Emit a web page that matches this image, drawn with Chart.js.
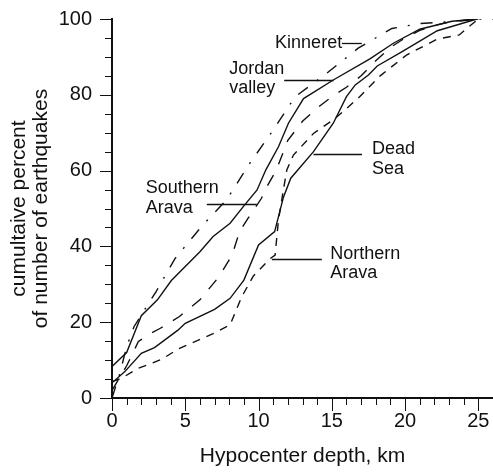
<!DOCTYPE html>
<html>
<head>
<meta charset="utf-8">
<script src="https://cdn.jsdelivr.net/npm/chart.js@4"></script>
<style>
  html, body { margin: 0; padding: 0; background: #fff; }
  #depthChart { display: block; }
</style>
</head>
<body>
<canvas id="depthChart" width="493" height="473"></canvas>
<script>
// cumulative distribution of hypocenter depths, per region
const kinneretDepth = [0, 0.5, 1, 1.5, 2.5, 3, 4.3, 6.1, 7.8, 9.4, 11, 12.5, 14.5, 16.8, 19.1, 21, 22.6, 25, 26];
const kinneretPct = [0, 6, 13.5, 18.8, 25, 28, 36.8, 45.2, 52.2, 61.9, 70.7, 79.5, 85.2, 92.3, 97.5, 98.8, 99.2, 100, 100];

const jordanDepth = [0, 1, 2, 3.1, 4.05, 6, 6.9, 8.06, 9, 9.9, 10.5, 11.36, 12.04, 13.07, 15.1, 17.6, 19.2, 21, 23.2, 25];
const jordanPct = [8.3, 12, 21.7, 25.9, 31, 38.6, 42.6, 46.1, 50.7, 54.9, 60.2, 66.3, 72.5, 79, 83.9, 89.5, 93.6, 97.3, 99.4, 100];

const sAravaDepth = [0, 1, 1.8, 2.6, 3.3, 4.6, 6, 7.3, 8.2, 8.7, 9.3, 10.2, 10.5, 11.2, 12, 13, 14, 15, 16, 17, 18, 19, 20, 21, 22, 23, 25];
const sAravaPct = [2, 8.5, 14.9, 17, 18.4, 21.5, 25.9, 32, 37.7, 43.9, 47.5, 52.7, 55.3, 60, 68, 73, 76.5, 79.5, 82, 85, 89, 92.5, 95, 97, 98.3, 99.2, 100];

const deadSeaDepth = [0, 0.86, 2, 2.9, 4.5, 5, 7, 8.06, 9, 10, 11.1, 11.7, 12.2, 13.75, 15.1, 16, 16.6, 17.5, 18.1, 19.8, 22.2, 24.9];
const deadSeaPct = [4, 6.9, 11.8, 13.3, 17.9, 19.7, 23.4, 26.3, 31.1, 40.4, 43.9, 53, 58, 65, 72.5, 79.5, 82.6, 85.2, 87.6, 91.4, 96.9, 100];

const nAravaDepth = [0, 0.64, 1.78, 2.68, 3.48, 4.5, 6.9, 8.06, 8.85, 9.65, 10.8, 11.13, 11.36, 11.7, 11.93, 12.38, 13.75, 15.1, 15.9, 16.9, 18.3, 20.1, 22.2, 23.7, 24.2, 25];
const nAravaPct = [4.3, 5.2, 7.8, 9.1, 10.4, 12.9, 17, 19.3, 26.7, 32.2, 36.8, 37.7, 47, 55, 60.2, 64.1, 69.8, 73.4, 76, 79.5, 85, 90.5, 94.7, 95.8, 97.5, 100];

const xTickLabels = [0, 5, 10, 15, 20, 25];
const yTickLabels = [0, 20, 40, 60, 80, 100];

const FONT = "'Liberation Sans', Arial, sans-serif";
const INK = "#111";

function pts(xs, ys) {
  return xs.map((x, i) => ({ x: x, y: ys[i] }));
}

// region names with their pointer strokes (data units)
const regionLabels = [
  { lines: ["Kinneret"], x: 11.13, y: 92.4, from: 15.69, to: 17.05, at: 93.75 },
  { lines: ["Jordan", "valley"], x: 8.0, y: 85.5, from: 11.75, to: 15.12, at: 83.9 },
  { lines: ["Southern", "Arava"], x: 2.3, y: 54.0, from: 6.47, to: 9.88, at: 51.2 },
  { lines: ["Dead", "Sea"], x: 17.74, y: 64.3, from: 13.75, to: 17.06, at: 64.4 },
  { lines: ["Northern", "Arava"], x: 14.89, y: 36.7, from: 10.91, to: 14.32, at: 36.7 },
];

const regionText = {
  id: "regionText",
  afterDraw(chart) {
    const { ctx, scales: { x, y } } = chart;
    ctx.save();
    ctx.fillStyle = INK;
    ctx.strokeStyle = INK;
    ctx.lineWidth = 1.3;
    ctx.font = "18px " + FONT;
    ctx.textBaseline = "alphabetic";
    regionLabels.forEach((lab) => {
      const tx = x.getPixelForValue(lab.x);
      const ty = y.getPixelForValue(lab.y);
      lab.lines.forEach((s, i) => ctx.fillText(s, tx, ty + i * 19.5));
      const py = Math.round(y.getPixelForValue(lab.at)) + 0.5;
      ctx.beginPath();
      ctx.moveTo(x.getPixelForValue(lab.from), py);
      ctx.lineTo(x.getPixelForValue(lab.to), py);
      ctx.stroke();
    });
    ctx.restore();
  },
};

// outward ticks: long at labelled values, short in between
const axisTicks = {
  id: "axisTicks",
  afterDraw(chart) {
    const { ctx, chartArea, scales: { x, y } } = chart;
    ctx.save();
    ctx.strokeStyle = INK;
    ctx.lineWidth = 1;
    ctx.beginPath();
    for (let v = 0; v <= 26; v++) {
      const px = Math.round(x.getPixelForValue(v)) + 0.5;
      const len = xTickLabels.includes(v) ? 13 : 7;
      ctx.moveTo(px, chartArea.bottom);
      ctx.lineTo(px, chartArea.bottom + len);
    }
    for (let v = 0; v <= 100; v += 5) {
      const py = Math.round(y.getPixelForValue(v)) + 0.5;
      const len = yTickLabels.includes(v) ? 12 : 7;
      ctx.moveTo(chartArea.left, py);
      ctx.lineTo(chartArea.left - len, py);
    }
    ctx.stroke();
    ctx.restore();
  },
};

const line = (label, xs, ys, dash) => ({
  label: label,
  data: pts(xs, ys),
  borderColor: INK,
  borderWidth: 1.4,
  borderDash: dash,
  pointRadius: 0,
  tension: 0,
  fill: false,
});

new Chart(document.getElementById("depthChart"), {
  type: "line",
  data: {
    datasets: [
      line("Kinneret", kinneretDepth, kinneretPct, [12, 11, 2, 11]),
      line("Jordan valley", jordanDepth, jordanPct, []),
      line("Southern Arava", sAravaDepth, sAravaPct, [12, 12]),
      line("Dead Sea", deadSeaDepth, deadSeaPct, []),
      line("Northern Arava", nAravaDepth, nAravaPct, [8, 7]),
    ],
  },
  options: {
    responsive: false,
    animation: false,
    layout: { padding: { top: 19, right: 0, left: 0, bottom: 0 } },
    plugins: {
      legend: { display: false },
      tooltip: { enabled: false },
    },
    scales: {
      x: {
        type: "linear",
        min: 0,
        max: 26,
        border: { color: INK, width: 2 },
        // tick marks come from axisTicks; tickLength only spaces the labels
        grid: { display: false, drawTicks: true, tickLength: 11 },
        afterBuildTicks: (s) => { s.ticks = xTickLabels.map((v) => ({ value: v })); },
        ticks: {
          padding: 0,
          color: INK,
          autoSkip: false,
          maxRotation: 0,
          font: { family: FONT, size: 20 },
        },
        title: {
          display: true,
          text: "Hypocenter depth, km",
          color: INK,
          font: { family: FONT, size: 21 },
          padding: { top: 0, bottom: 4 },
        },
        afterFit: (s) => { s.height = 75; },
      },
      y: {
        min: 0,
        max: 100,
        border: { color: INK, width: 2 },
        grid: { display: false, drawTicks: true, tickLength: 20 },
        afterBuildTicks: (s) => { s.ticks = yTickLabels.map((v) => ({ value: v })); },
        ticks: {
          padding: 0,
          color: INK,
          font: { family: FONT, size: 20 },
        },
        title: {
          display: true,
          text: ["cumultaive percent", "of number of earthquakes"],
          color: INK,
          font: { family: FONT, size: 21, lineHeight: 1.05 },
          padding: { top: 8, bottom: 0 },
        },
        afterFit: (s) => { s.width = 112; },
      },
    },
  },
  plugins: [axisTicks, regionText],
});
</script>
</body>
</html>
